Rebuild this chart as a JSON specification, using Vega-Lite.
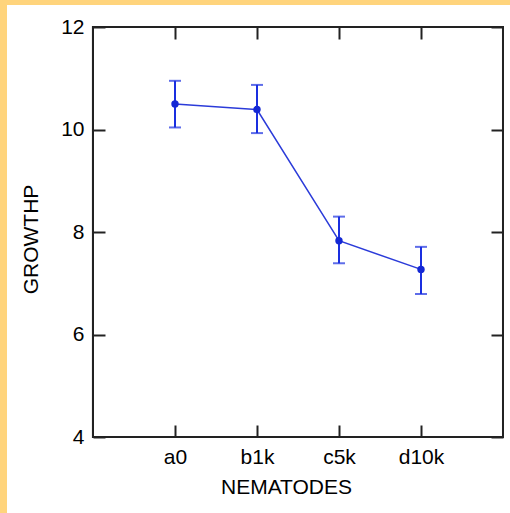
{
  "$schema": "https://vega.github.io/schema/vega-lite/v6.json",
  "width": 503,
  "height": 508,
  "autosize": {"type": "none"},
  "padding": {"left": 7, "top": 5, "right": 0, "bottom": 0},
  "background": "#ffd47c",
  "config": {
    "view": {"fill": "white", "stroke": null},
    "font": "Liberation Sans",
    "axis": {
      "grid": false,
      "domain": false,
      "tickSize": -12,
      "tickWidth": 2,
      "tickColor": "#222222",
      "labelFont": "Liberation Sans",
      "labelFontSize": 21,
      "labelColor": "#000000",
      "titleFont": "Liberation Sans",
      "titleFontSize": 21,
      "titleFontWeight": "normal",
      "titleColor": "#000000"
    }
  },
  "data": {
    "values": [
      {"NEMATODES": "a0", "GROWTHP": 10.50, "lo": 10.04, "hi": 10.95},
      {"NEMATODES": "b1k", "GROWTHP": 10.39, "lo": 9.93, "hi": 10.87},
      {"NEMATODES": "c5k", "GROWTHP": 7.83, "lo": 7.39, "hi": 8.30},
      {"NEMATODES": "d10k", "GROWTHP": 7.27, "lo": 6.79, "hi": 7.71}
    ]
  },
  "layer": [
    {
      "mark": {"type": "rect", "fill": null, "stroke": "#222222", "strokeWidth": 2},
      "encoding": {
        "x": {"datum": "_0", "type": "ordinal", "axis": null,
              "scale": {"type": "point", "domain": ["_0", "a0", "b1k", "c5k", "d10k", "_5"], "padding": 0.567, "align": 0.9247}},
        "x2": {"datum": "_5"},
        "y": {"datum": 4, "type": "quantitative", "axis": null,
              "scale": {"domain": [2.5171, 12.4293], "nice": false, "zero": false}},
        "y2": {"datum": 12}
      }
    },
    {
      "mark": {"type": "rule", "color": "#1a2fe0", "strokeWidth": 2},
      "encoding": {
        "x": {"field": "NEMATODES", "type": "ordinal", "axis": null},
        "y": {"field": "lo", "type": "quantitative", "axis": null},
        "y2": {"field": "hi"}
      }
    },
    {
      "mark": {"type": "tick", "color": "#1a2fe0", "size": 12, "thickness": 2},
      "encoding": {
        "x": {"field": "NEMATODES", "type": "ordinal", "axis": null},
        "y": {"field": "lo", "type": "quantitative", "axis": null}
      }
    },
    {
      "mark": {"type": "tick", "color": "#1a2fe0", "size": 12, "thickness": 2},
      "encoding": {
        "x": {"field": "NEMATODES", "type": "ordinal", "axis": null},
        "y": {"field": "hi", "type": "quantitative", "axis": null}
      }
    },
    {
      "mark": {"type": "line", "color": "#2b3bd9", "strokeWidth": 1.5},
      "encoding": {
        "x": {"field": "NEMATODES", "type": "ordinal", "axis": null},
        "y": {"field": "GROWTHP", "type": "quantitative", "axis": null}
      }
    },
    {
      "mark": {"type": "point", "filled": true, "color": "#1428d4", "size": 55, "opacity": 1},
      "encoding": {
        "x": {"field": "NEMATODES", "type": "ordinal",
              "axis": {"orient": "bottom", "offset": -76, "values": ["a0", "b1k", "c5k", "d10k"], "labelAngle": 0, "labelPadding": 21, "titlePadding": 9, "titleX": 279, "title": "NEMATODES"}},
        "y": {"field": "GROWTHP", "type": "quantitative",
              "axis": {"orient": "left", "offset": -86, "values": [4, 6, 8, 10, 12], "labelPadding": 21, "titlePadding": 19, "titleY": 234, "title": "GROWTHP"}}
      }
    },
    {
      "mark": {"type": "point", "opacity": 0},
      "encoding": {
        "x": {"field": "NEMATODES", "type": "ordinal",
              "axis": {"orient": "top", "offset": -22, "values": ["a0", "b1k", "c5k", "d10k"], "labels": false, "title": null}},
        "y": {"field": "GROWTHP", "type": "quantitative",
              "axis": {"orient": "right", "offset": -7, "values": [4, 6, 8, 10, 12], "labels": false, "title": null}}
      }
    }
  ],
  "resolve": {"axis": {"x": "independent", "y": "independent"}}
}
